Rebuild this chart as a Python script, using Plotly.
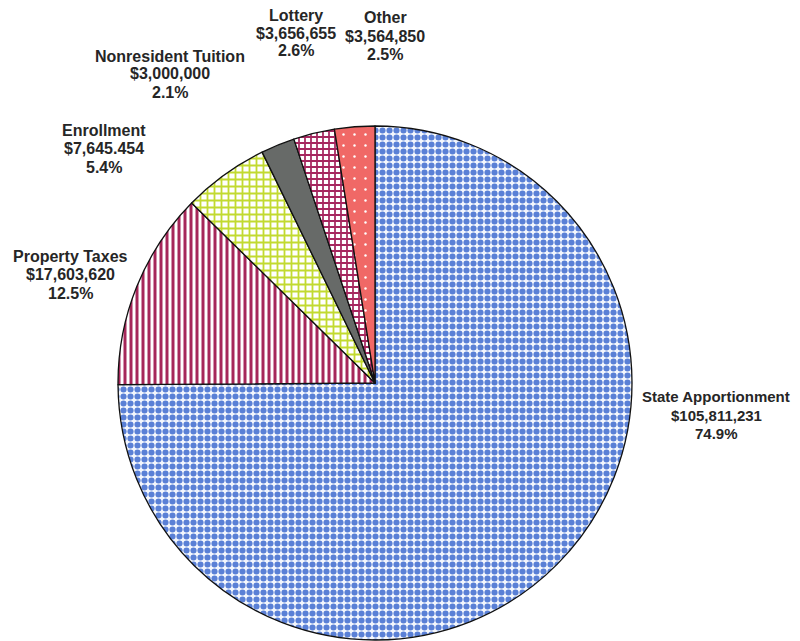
import plotly.graph_objects as go

categories = ["State Apportionment", "Property Taxes", "Enrollment",
              "Nonresident Tuition", "Lottery", "Other"]
amounts = [105811231, 17603620, 7645454, 3000000, 3656655, 3564850]
amount_labels = ["$105,811,231", "$17,603,620", "$7,645.454",
                 "$3,000,000", "$3,656,655", "$3,564,850"]
percent_labels = ["74.9%", "12.5%", "5.4%", "2.1%", "2.6%", "2.5%"]

fg_colors = ["#5a80d6", "#a6275a", "#c2da30", "#676a68", "#a6275f", "#ffffff"]
bg_colors = ["#f4f7fd", "#ffffff", "#ffffff", "#676a68", "#ffffff", "#f06866"]
shapes = [".", "|", "+", "", "+", "."]
sizes = [7, 6, 7, 8, 6, 11]
solidity = [0.6, 0.5, 0.45, 0.3, 0.5, 0.04]
label_sizes = [15, 16, 16, 16, 16, 16]

# page has an 8px body margin: figure occupies screen px 8..800, 8..641
OFF = 8
W, H = 792, 633
cx, cy, r = 375 - OFF, 383 - OFF, 257

fig = go.Figure(go.Pie(
    labels=categories,
    values=amounts,
    sort=False,
    direction="clockwise",
    rotation=0,
    textinfo="none",
    hoverinfo="label+value+percent",
    marker=dict(
        colors=bg_colors,
        line=dict(color="#111111", width=1.3),
        pattern=dict(shape=shapes, fgcolor=fg_colors, bgcolor=bg_colors,
                     fgopacity=1, size=sizes, solidity=solidity,
                     fillmode="replace"),
    ),
    domain=dict(x=[(cx - r) / W, (cx + r) / W],
                y=[max(0, (H - cy - r) / H), (H - cy + r) / H]),
    showlegend=False,
))

# label positions in screen pixels: center x, y of each of the three lines
label_pos = [(716, (396, 415, 433)), (70, (256, 274, 293)), (104, (130, 149, 167)),
             (170, (56, 74, 93)), (296, (15, 33, 51)), (385, (18, 37, 55))]

for cat, amt, pct, (lx, ys), fs in zip(categories, amount_labels, percent_labels,
                                       label_pos, label_sizes):
    for txt, ly in zip((cat, amt, pct), ys):
        fig.add_annotation(
            x=(lx - OFF) / W, y=1 - (ly - OFF) / H, xref="paper", yref="paper",
            xanchor="center", yanchor="middle", showarrow=False,
            text=f"<b>{txt}</b>",
            font=dict(family="Liberation Sans, Arial", size=fs, color="#262626"),
        )

fig.update_layout(width=W, height=H, margin=dict(l=0, r=0, t=0, b=0),
                  paper_bgcolor="white", plot_bgcolor="white")

fig.write_html("out.html")
